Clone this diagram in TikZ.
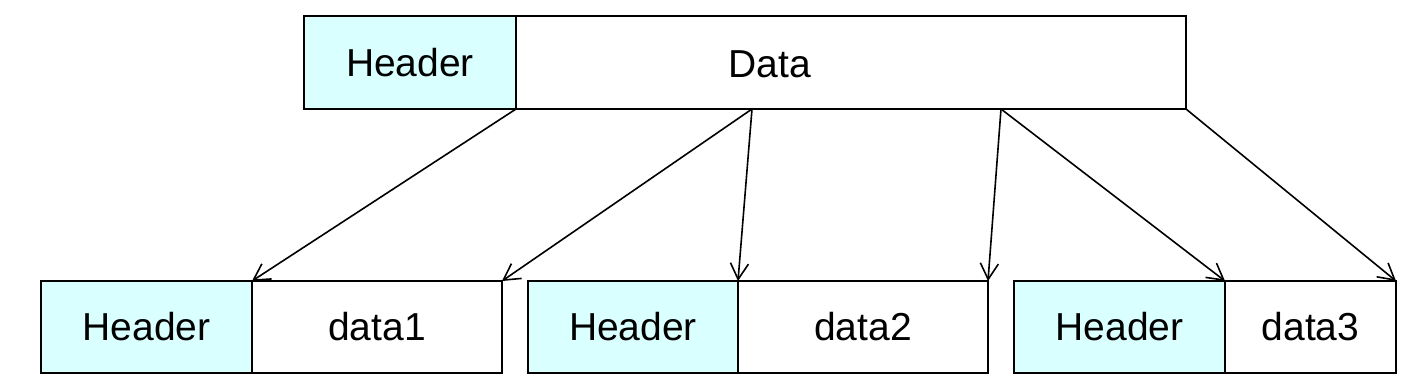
\documentclass[tikz,border=0pt]{standalone}
\usepackage{fontspec}
\setmainfont{Liberation Sans}
\usetikzlibrary{arrows.meta}
\definecolor{hdrfill}{RGB}{217,255,255}
\begin{document}
\begin{tikzpicture}[x=0.5pt,y=-0.5pt,
  cell/.style={draw=black,line width=1pt,rectangle,inner sep=0pt,outer sep=0pt,
    font=\fontsize{19.5pt}{22pt}\selectfont},
  hdr/.style={cell,fill=hdrfill},
  dat/.style={cell,fill=white},
  link/.style={line width=0.8pt,-{Straight Barb[length=8pt,width=9pt,line width=0.8pt]}}]
\useasboundingbox (0,0) rectangle (1415,387);
% top packet
\node[dat,minimum width=335pt,minimum height=46.5pt] (topdata) at (851,62.5) {};
\node[hdr,minimum width=106pt,minimum height=46.5pt] (tophdr) at (410,62.5) {Header};
\node[font=\fontsize{19.5pt}{22pt}\selectfont] (datalabel) at (770,64) {Data};
\coordinate (s1) at (752,109);
\coordinate (s2) at (1001,109);
% bottom packets
\node[hdr,minimum width=105.5pt,minimum height=46pt] (h1) at (146.5,327) {Header};
\node[dat,minimum width=125pt,minimum height=46pt] (d1) at (377,327) {data1};
\node[hdr,minimum width=105pt,minimum height=46pt] (h2) at (633,327) {Header};
\node[dat,minimum width=125pt,minimum height=46pt] (d2) at (863,327) {data2};
\node[hdr,minimum width=105.5pt,minimum height=46pt] (h3) at (1119.5,327) {Header};
\node[dat,minimum width=85.5pt,minimum height=46pt] (d3) at (1310.5,327) {data3};
% arrows
\draw[link] (tophdr.south east) -- (d1.north west);
\draw[link] (s1) -- (d1.north east);
\draw[link] (s1) -- (d2.north west);
\draw[link] (s2) -- (d2.north east);
\draw[link] (s2) -- (d3.north west);
\draw[link] (topdata.south east) -- (d3.north east);
\end{tikzpicture}
\end{document}
